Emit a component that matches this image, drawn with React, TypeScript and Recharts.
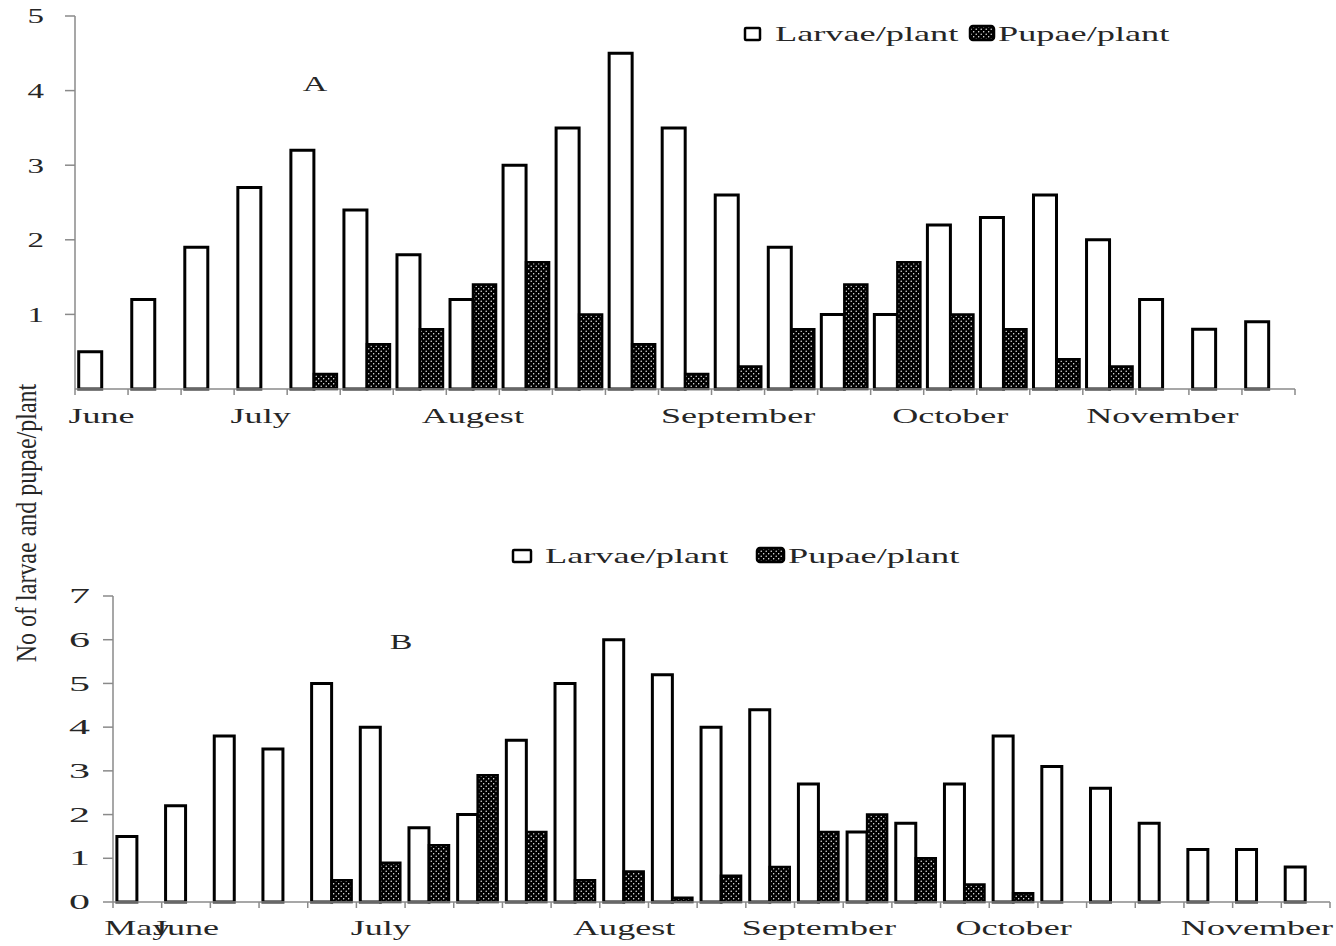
import React from "react";
import { BarChart, Bar, XAxis, YAxis, Legend } from "recharts";

// --- Data ---

// panel A: weekly samples, June → November
const weeksA = [
  "June", "", "", "July", "", "", "", "Augest", "", "", "", "",
  "September", "", "", "", "October", "", "", "", "November", "", "",
];
const larvaeA = [0.5, 1.2, 1.9, 2.7, 3.2, 2.4, 1.8, 1.2, 3.0, 3.5, 4.5, 3.5, 2.6, 1.9, 1.0, 1.0, 2.2, 2.3, 2.6, 2.0, 1.2, 0.8, 0.9];
const pupaeA = [null, null, null, null, 0.2, 0.6, 0.8, 1.4, 1.7, 1.0, 0.6, 0.2, 0.3, 0.8, 1.4, 1.7, 1.0, 0.8, 0.4, 0.3, null, null, null];
const ticksA = [1, 2, 3, 4, 5];

// panel B: weekly samples, May → November
const weeksB = [
  "May", "June", "", "", "", "July", "", "", "", "", "Augest", "", "", "",
  "September", "", "", "", "October", "", "", "", "", "November", "",
];
const larvaeB = [1.5, 2.2, 3.8, 3.5, 5.0, 4.0, 1.7, 2.0, 3.7, 5.0, 6.0, 5.2, 4.0, 4.4, 2.7, 1.6, 1.8, 2.7, 3.8, 3.1, 2.6, 1.8, 1.2, 1.2, 0.8];
const pupaeB = [null, null, null, null, 0.5, 0.9, 1.3, 2.9, 1.6, 0.5, 0.7, 0.1, 0.6, 0.8, 1.6, 2.0, 1.0, 0.4, 0.2, null, null, null, null, null, null];
const ticksB = [0, 1, 2, 3, 4, 5, 6, 7];

const seriesNames = { larvae: "Larvae/plant", pupae: "Pupae/plant" };

// --- Styles ---

const FONT = '"Liberation Serif", "Times New Roman", serif';
const INK = "#262626";
const AXIS = "#8a8a8a";

const rows = (weeks: string[], larvae: number[], pupae: (number | null)[]) =>
  weeks.map((week, i) => ({ week, larvae: larvae[i], pupae: pupae[i] }));

const dataA = rows(weeksA, larvaeA, pupaeA);
const dataB = rows(weeksB, larvaeB, pupaeB);

function Dots({ id }: { id: string }) {
  return (
    <defs>
      <pattern id={id} width="5" height="5" patternUnits="userSpaceOnUse">
        <rect width="5" height="5" fill="#000" />
        <circle cx="1.2" cy="1.2" r="0.7" fill="#fff" />
        <circle cx="3.7" cy="3.7" r="0.7" fill="#fff" />
      </pattern>
    </defs>
  );
}

// month label under a week, tick marks on the band edges (Excel style)
function MonthTick(props: any) {
  const { x, y, payload, index, band, count, dy } = props;
  const half = band / 2;
  return (
    <g>
      <line x1={x - half} x2={x - half} y1={y} y2={y + 6} stroke={AXIS} strokeWidth={1.5} />
      {index === count - 1 && (
        <line x1={x + half} x2={x + half} y1={y} y2={y + 6} stroke={AXIS} strokeWidth={1.5} />
      )}
      {payload.value ? (
        <text
          transform={`translate(${x},${y + dy}) scale(1.64,1)`}
          textAnchor="middle"
          fontFamily={FONT}
          fontSize={22}
          fill={INK}
        >
          {payload.value}
        </text>
      ) : null}
    </g>
  );
}

function ValueTick(props: any) {
  const { x, y, payload, gap, sx, fs } = props;
  return (
    <g>
      <line x1={x - 10} x2={x} y1={y} y2={y} stroke={AXIS} strokeWidth={1.5} />
      <text
        transform={`translate(${x - gap},${y}) scale(${sx},1)`}
        textAnchor="end"
        dy="0.34em"
        fontFamily={FONT}
        fontSize={fs}
        fill={INK}
      >
        {payload.value}
      </text>
    </g>
  );
}

function KeyBox({ payload, slots, dotsId }: any) {
  return (
    <svg width={470} height={32}>
      {(payload || []).map((entry: any, i: number) => {
        const s = slots[i];
        const isPupae = entry.dataKey === "pupae";
        return (
          <g key={entry.dataKey}>
            <rect
              x={s.box}
              y={isPupae ? 8 : 10}
              width={s.w}
              height={isPupae ? 14 : 12}
              rx={isPupae ? 3 : 1}
              fill={isPupae ? `url(#${dotsId})` : "#fff"}
              stroke="#000"
              strokeWidth={2.5}
            />
            <text
              transform={`translate(${s.text},23) scale(1.65,1)`}
              fontFamily={FONT}
              fontSize={22}
              fill={INK}
            >
              {entry.value}
            </text>
          </g>
        );
      })}
    </svg>
  );
}

export default function App() {
  const bandA = 1220 / weeksA.length;
  const bandB = 1217 / weeksB.length;
  return (
    <div style={{ position: "absolute", left: 0, top: 0, width: 1336, height: 946, background: "#fff" }}>
      <div style={{ position: "absolute", left: 0, top: 0 }}>
        <BarChart
          width={1336}
          height={440}
          data={dataA}
          margin={{ top: 16, right: 41, bottom: 11, left: 0 }}
          barCategoryGap="7%"
          barGap={0}
        >
          <Dots id="dotsA" />
          <XAxis
            dataKey="week"
            height={40}
            interval={0}
            tickSize={0}
            tickMargin={0}
            tickLine={false}
            axisLine={{ stroke: AXIS, strokeWidth: 1.5 }}
            tick={(p: any) => <MonthTick {...p} band={bandA} count={weeksA.length} dy={34} />}
          />
          <YAxis
            width={75}
            domain={[0, 5]}
            ticks={ticksA}
            interval={0}
            tickSize={0}
            tickMargin={0}
            tickLine={false}
            axisLine={{ stroke: AXIS, strokeWidth: 1.5 }}
            tick={(p: any) => <ValueTick {...p} gap={31} sx={1.5} fs={22} />}
          />
          <Legend
            layout="horizontal"
            verticalAlign="middle"
            align="center"
            wrapperStyle={{ top: 18, left: 740, width: 470, height: 32 }}
            content={(p: any) => (
              <KeyBox
                {...p}
                dotsId="dotsA"
                slots={[
                  { box: 5, w: 15, text: 35 },
                  { box: 230, w: 24, text: 258 },
                ]}
              />
            )}
          />
          <Bar dataKey="larvae" name={seriesNames.larvae} fill="#fff" stroke="#000" strokeWidth={3} isAnimationActive={false} />
          <Bar dataKey="pupae" name={seriesNames.pupae} fill="url(#dotsA)" stroke="#000" strokeWidth={2.5} isAnimationActive={false} />
        </BarChart>
      </div>

      <div style={{ position: "absolute", left: 0, top: 500 }}>
        <BarChart
          width={1336}
          height={446}
          data={dataB}
          margin={{ top: 96, right: 6, bottom: 4, left: 0 }}
          barCategoryGap="8%"
          barGap={0}
        >
          <Dots id="dotsB" />
          <XAxis
            dataKey="week"
            height={40}
            interval={0}
            tickSize={0}
            tickMargin={0}
            tickLine={false}
            axisLine={{ stroke: AXIS, strokeWidth: 1.5 }}
            tick={(p: any) => <MonthTick {...p} band={bandB} count={weeksB.length} dy={33} />}
          />
          <YAxis
            width={113}
            domain={[0, 7]}
            ticks={ticksB}
            interval={0}
            tickSize={0}
            tickMargin={0}
            tickLine={false}
            axisLine={{ stroke: AXIS, strokeWidth: 1.5 }}
            tick={(p: any) => <ValueTick {...p} gap={23} sx={2.0} fs={21} />}
          />
          <Legend
            layout="horizontal"
            verticalAlign="middle"
            align="center"
            wrapperStyle={{ top: 40, left: 505, width: 470, height: 32 }}
            content={(p: any) => (
              <KeyBox
                {...p}
                dotsId="dotsB"
                slots={[
                  { box: 8, w: 18, text: 40 },
                  { box: 252, w: 27, text: 283 },
                ]}
              />
            )}
          />
          <Bar dataKey="larvae" name={seriesNames.larvae} fill="#fff" stroke="#000" strokeWidth={3} isAnimationActive={false} />
          <Bar dataKey="pupae" name={seriesNames.pupae} fill="url(#dotsB)" stroke="#000" strokeWidth={2.5} isAnimationActive={false} />
        </BarChart>
      </div>

      {/* panel letters and shared y title */}
      <svg
        width={1336}
        height={946}
        style={{ position: "absolute", left: 0, top: 0, pointerEvents: "none" }}
      >
        <text transform="translate(315,91) scale(1.7,1)" textAnchor="middle" fontFamily={FONT} fontSize={20} fill={INK}>
          A
        </text>
        <text transform="translate(401,649) scale(1.7,1)" textAnchor="middle" fontFamily={FONT} fontSize={20} fill={INK}>
          B
        </text>
        <text
          transform="translate(36,523) rotate(-90) scale(0.8,1)"
          textAnchor="middle"
          fontFamily={FONT}
          fontSize={30}
          fill={INK}
        >
          No of larvae and pupae/plant
        </text>
      </svg>
    </div>
  );
}
